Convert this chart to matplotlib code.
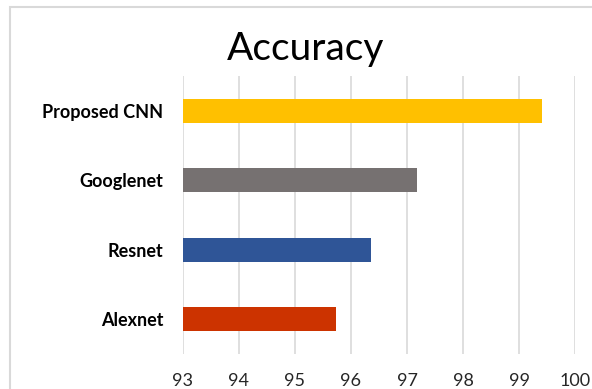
import matplotlib.pyplot as plt
from matplotlib.patches import Rectangle

models = ["Alexnet", "Resnet", "Googlenet", "Proposed CNN"]
accuracy = [95.73, 96.36, 97.18, 99.40]
bar_colors = ["#CC3300", "#2F5597", "#767171", "#FFC000"]
xticks = [93, 94, 95, 96, 97, 98, 99, 100]

plt.rcParams['font.family'] = ['Lato', 'DejaVu Sans']

fig = plt.figure(figsize=(5.92, 3.89), dpi=100)
ax = fig.add_axes([0.3086, 0.0907, 0.6632, 0.7132])

ax.barh(range(len(models)), [a - 93 for a in accuracy], left=93, height=0.35,
        color=bar_colors, zorder=3)

ax.set_xlim(93, 100)
ax.set_ylim(-0.5, len(models) - 0.5)
ax.set_xticks(xticks)
ax.set_xticklabels([str(t) for t in xticks], fontsize=13, color="#262626")
ax.set_yticks(range(len(models)))
ax.set_yticklabels(models, fontsize=13, fontweight="bold", color="#000000")
ax.tick_params(axis="both", length=0)
ax.tick_params(axis="x", pad=14)
ax.tick_params(axis="y", pad=14)
ax.grid(axis="x", color="#d9d9d9", linewidth=1.2, zorder=0)
for side in ax.spines.values():
    side.set_visible(False)

fig.text(0.516, 0.875, "Accuracy", ha="center", va="center", fontsize=28, color="#000000")

# light chart-area frame
frame = Rectangle((9.5 / 592, -0.05), 1.05, 1 - 6.5 / 389 + 0.05, transform=fig.transFigure,
                  fill=False, edgecolor="#d9d9d9", linewidth=1.5, clip_on=False)
fig.patches.append(frame)

fig.savefig("out.png", dpi=100)
